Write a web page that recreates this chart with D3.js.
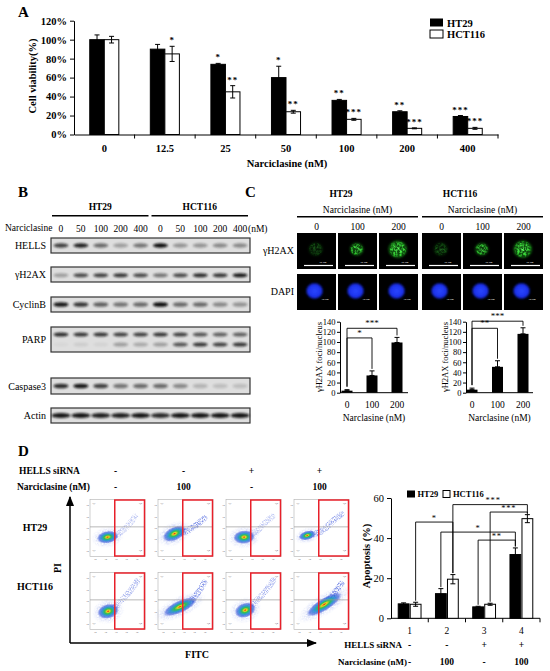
<!DOCTYPE html>
<html><head><meta charset="utf-8">
<script src="https://cdn.jsdelivr.net/npm/d3@7"></script>
<style>
body{margin:0;background:#fff}
svg{display:block;font-family:"Liberation Serif","Times New Roman",serif}
</style></head>
<body>
<svg id="fig" width="550" height="671"></svg>
<script>
// ---------------- DATA ----------------
// Panel A
const concA = ["0","12.5","25","50","100","200","400"];
const ht29A = [100, 90, 74, 60, 36, 24, 19];
const ht29AErr = [5, 5, 1, 12, 1, 1, 1];
const hct116A = [100, 85, 45, 24, 16, 6.5, 6.5];
const hct116AErr = [3.5, 8, 6.5, 1.5, 1, 0.5, 1];
const ht29AStars = ["", "", "*", "*", "**", "**", "***"];
const hct116AStars = ["", "*", "**", "**", "***", "***", "***"];
const yTicksA = [0, 20, 40, 60, 80, 100, 120];
// Panel B (band intensities read from blot, 0..1)
const blotLanes = ["0","50","100","200","400","0","50","100","200","400"];
const blotCells = ["HT29", "HCT116"];
const bandHELLS   = [0.75,0.9,0.55,0.3,0.5, 1.0,0.35,0.35,0.4,0.4];
const bandH2AX    = [0.3,0.7,0.75,0.8,0.7, 0.5,0.7,0.85,0.8,0.95];
const bandCyclinB = [0.95,0.8,0.6,0.5,0.55, 1.0,0.55,0.55,0.4,0.35];
const bandPARP    = [0.85,0.8,0.8,0.75,0.75, 0.8,0.75,0.65,0.6,0.6];
const bandClPARP  = [0.03,0.08,0.05,0.3,0.25, 0.3,0.65,0.8,0.75,0.8];
const bandCasp3   = [0.85,0.95,0.75,0.5,0.55, 0.55,0.4,0.2,0.15,0.15];
const bandActin   = [0.95,0.95,0.9,0.9,0.95, 0.85,0.95,0.95,0.95,0.95];
// Panel C
const fociDoses = ["0","100","200"];
const fociTicks = [0,20,40,60,80,100,120,140];
const fociHT29 = [4, 34, 99];
const fociHT29Err = [2, 9, 10];
const fociHCT116 = [6, 51, 116];
const fociHCT116Err = [3, 12, 12];
const gh2axIntensityHT29 = [0.28, 0.85, 1.0];
const gh2axIntensityHCT116 = [0.3, 0.8, 1.0];
// Panel D
const apopGroups = ["1","2","3","4"];
const apopHT29 = [7.2, 12.3, 5.7, 31.8];
const apopHT29Err = [0.5, 2.5, 0.3, 3.3];
const apopHCT116 = [7, 19.5, 7, 49.7];
const apopHCT116Err = [1, 2.3, 0.5, 2];
const siRNAD = ["-","-","+","+"];
const narcD = ["-","100","-","100"];
const apopYTicks = [0,20,40,60];

const SERIF = '"Liberation Serif","Times New Roman",serif';
const svg = d3.select("#fig");
svg.append("rect").attr("width",550).attr("height",671).attr("fill","#fff");

// ---------- defs ----------
const defs = svg.append("defs");
const blur = defs.append("filter").attr("id","bandBlur").attr("x","-30%").attr("y","-80%").attr("width","160%").attr("height","260%");
blur.append("feGaussianBlur").attr("stdDeviation",0.8);
const soft = defs.append("filter").attr("id","soft").attr("x","-50%").attr("y","-50%").attr("width","200%").attr("height","200%");
soft.append("feGaussianBlur").attr("stdDeviation",1.2);
const mott = defs.append("filter").attr("id","mottle").attr("x","-30%").attr("y","-30%").attr("width","160%").attr("height","160%");
mott.append("feTurbulence").attr("type","fractalNoise").attr("baseFrequency",0.45).attr("numOctaves",2).attr("seed",4).attr("result","n");
mott.append("feColorMatrix").attr("in","n").attr("type","matrix").attr("values","0 0 0 0 0  0 0 0 0 0  0 0 0 0 0  3 0 0 0 -1.1").attr("result","a");
mott.append("feComposite").attr("in","SourceGraphic").attr("in2","a").attr("operator","in").attr("result","c");
mott.append("feGaussianBlur").attr("in","c").attr("stdDeviation",0.35);
const spk = defs.append("filter").attr("id","speckle").attr("x","-30%").attr("y","-30%").attr("width","160%").attr("height","160%");
spk.append("feTurbulence").attr("type","fractalNoise").attr("baseFrequency",1.3).attr("numOctaves",1).attr("seed",7).attr("result","n");
spk.append("feColorMatrix").attr("in","n").attr("type","matrix").attr("values","0 0 0 0 0  0 0 0 0 0  0 0 0 0 0  3.2 0 0 0 -1.2").attr("result","a");
spk.append("feComposite").attr("in","SourceGraphic").attr("in2","a").attr("operator","in");
const heat = defs.append("radialGradient").attr("id","heat");
[[0,"#e02010",1],[0.14,"#f0d020",1],[0.32,"#30c050",1],[0.55,"#2090d0",0.9],[0.8,"#3050d8",0.6],[1,"#4a64e0",0]]
  .forEach(s=>heat.append("stop").attr("offset",s[0]).attr("stop-color",s[1]).attr("stop-opacity",s[2]));
const cool = defs.append("radialGradient").attr("id","cool");
[[0,"#3a5ad8",0.8],[1,"#6a80e8",0]].forEach(s=>cool.append("stop").attr("offset",s[0]).attr("stop-color",s[1]).attr("stop-opacity",s[2]));
const green = defs.append("radialGradient").attr("id","greenN");
[[0,"#60ff60",1],[0.75,"#30d030",1],[1,"#10a010",0]].forEach(s=>green.append("stop").attr("offset",s[0]).attr("stop-color",s[1]).attr("stop-opacity",s[2]));
const blue = defs.append("radialGradient").attr("id","blueN");
[[0,"#2a48ff",1],[0.8,"#1a2ee8",1],[1,"#0a10a0",0]].forEach(s=>blue.append("stop").attr("offset",s[0]).attr("stop-color",s[1]).attr("stop-opacity",s[2]));
defs.append("marker").attr("id","arrow").attr("viewBox","0 0 10 10").attr("refX",9).attr("refY",5)
  .attr("markerWidth",7).attr("markerHeight",7).attr("orient","auto-start-reverse")
  .append("path").attr("d","M0,1 L10,5 L0,9 z").attr("fill","#000");

function txt(g, x, y, s, size, weight, anchor){
  return g.append("text").attr("x",x).attr("y",y).text(s).attr("font-size",size)
    .attr("font-weight",weight||"normal").attr("text-anchor",anchor||"start").attr("font-family",SERIF).attr("fill","#000");
}
function styleAxis(sel, size, weight){
  sel.attr("font-family",SERIF);
  sel.selectAll("text").attr("font-size",size).attr("font-weight",weight).attr("fill","#000");
  sel.selectAll("line,path").attr("stroke","#000");
}
function errBar(g, x, y1, y2, cap){
  g.append("line").attr("x1",x).attr("x2",x).attr("y1",y1).attr("y2",y2).attr("stroke","#000").attr("stroke-width",1);
  [y1,y2].forEach(yy=>g.append("line").attr("x1",x-cap).attr("x2",x+cap).attr("y1",yy).attr("y2",yy).attr("stroke","#000").attr("stroke-width",1));
}

// ================= PANEL A =================
const gA = svg.append("g");
txt(gA, 18, 17, "A", 15, "bold");
const xA = d3.scaleBand().domain(concA).range([74, 498]);
const yA = d3.scaleLinear().domain([0,120]).range([134.5, 20.7]);
const bwA = xA.bandwidth()*0.24;
gA.append("g").attr("transform","translate(74,0)")
  .call(d3.axisLeft(yA).tickValues(yTicksA).tickFormat(d=>d+"%").tickSize(4).tickSizeOuter(0).tickPadding(3))
  .call(styleAxis, 10.5, "bold");
gA.append("g").attr("transform",`translate(0,${yA(0)})`)
  .call(d3.axisBottom(xA).tickSize(0).tickPadding(10).tickSizeOuter(0))
  .call(styleAxis, 10.5, "bold");
concA.slice(1).forEach(c=>gA.append("line").attr("x1",xA(c)).attr("x2",xA(c)).attr("y1",yA(0)).attr("y2",yA(0)+4).attr("stroke","#000"));
gA.append("line").attr("x1",498).attr("x2",498).attr("y1",yA(0)).attr("y2",yA(0)+4).attr("stroke","#000");
concA.forEach((c,i)=>{
  const cx = xA(c)+xA.bandwidth()/2;
  gA.append("rect").attr("x",cx-bwA).attr("y",yA(ht29A[i])).attr("width",bwA).attr("height",yA(0)-yA(ht29A[i])).attr("fill","#000").attr("stroke","#000");
  gA.append("rect").attr("x",cx).attr("y",yA(hct116A[i])).attr("width",bwA).attr("height",yA(0)-yA(hct116A[i])).attr("fill","#fff").attr("stroke","#000");
  errBar(gA, cx-bwA/2, yA(ht29A[i]+ht29AErr[i]), yA(ht29A[i]-ht29AErr[i]), 2.5);
  errBar(gA, cx+bwA/2, yA(hct116A[i]+hct116AErr[i]), yA(hct116A[i]-hct116AErr[i]), 2.5);
  if(ht29AStars[i]) txt(gA, cx-bwA/2, yA(ht29A[i]+ht29AErr[i])-3, ht29AStars[i], 9, "bold", "middle").attr("letter-spacing",1);
  if(hct116AStars[i]) txt(gA, cx+bwA/2, yA(hct116A[i]+hct116AErr[i])-3, hct116AStars[i], 9, "bold", "middle").attr("letter-spacing",1);
});
txt(gA, 0, 0, "Cell viability(%)", 10.5, "bold", "middle").attr("transform","translate(36,76) rotate(-90)");
txt(gA, 287, 167, "Narciclasine (nM)", 10.5, "bold", "middle");
gA.append("rect").attr("x",430).attr("y",18.5).attr("width",13).attr("height",8).attr("fill","#000");
gA.append("rect").attr("x",430).attr("y",30).attr("width",13).attr("height",8).attr("fill","#fff").attr("stroke","#000");
txt(gA, 447, 26.5, "HT29", 10.5, "bold");
txt(gA, 447, 38, "HCT116", 10.5, "bold");

// ================= PANEL B =================
const gB = svg.append("g");
txt(gB, 18, 197, "B", 15, "bold");
const lane = d3.scaleBand().domain(d3.range(blotLanes.length)).range([51, 250]);
const laneC = i => lane(i)+lane.bandwidth()/2;
[[0,4],[5,9]].forEach((r,k)=>{
  const x1 = lane(r[0])+1, x2 = lane(r[1])+lane.bandwidth()-2;
  gB.append("line").attr("x1",x1).attr("x2",x2).attr("y1",215.7).attr("y2",215.7).attr("stroke","#000").attr("stroke-width",1.5);
  txt(gB, (x1+x2)/2, 210, blotCells[k], 9.5, "bold", "middle");
});
txt(gB, 5, 231, "Narciclasine", 9.5, "normal");
blotLanes.forEach((l,i)=>txt(gB, laneC(i), 232, l, 9.5, "normal", "middle"));
txt(gB, 248, 232, "(nM)", 9.5, "normal");
const blotRows = [
  {name:"HELLS", y:238, h:15, bands:[[bandHELLS,0.5,2.2]]},
  {name:"γH2AX", y:267, h:15, bands:[[bandH2AX,0.55,2.0]]},
  {name:"CyclinB", y:297, h:15, bands:[[bandCyclinB,0.5,2.3]]},
  {name:"PARP", y:327, h:25, bands:[[bandPARP,0.3,2.0],[bandClPARP,0.7,2.0]]},
  {name:"Caspase3", y:378, h:16, bands:[[bandCasp3,0.5,2.3]]},
  {name:"Actin", y:408, h:15, bands:[[bandActin,0.5,2.6]]}
];
blotRows.forEach(r=>{
  gB.append("rect").attr("x",51).attr("y",r.y).attr("width",199).attr("height",r.h).attr("fill","#dedede").attr("stroke","#333").attr("stroke-width",1.2);
  r.bands.forEach(b=>{
    gB.selectAll(null).data(b[0]).join("ellipse")
      .attr("cx",(d,i)=>laneC(i)).attr("cy",r.y+r.h*b[1])
      .attr("rx",r.name==="Actin"?9.5:7.5).attr("ry",b[2])
      .attr("fill","#111").attr("opacity",d=>d).attr("filter","url(#bandBlur)");
  });
  txt(gB, 46, r.y+r.h/2+3.5, r.name, 10, "normal", "end");
});

// ================= PANEL C =================
const gC = svg.append("g");
txt(gC, 245, 197, "C", 15, "bold");
const cellStartsC = [297, 422];
const imgW = 39, imgH = 36, imgGap = 2;
const intensC = [gh2axIntensityHT29, gh2axIntensityHCT116];
[["HT29",341],["HCT116",460]].forEach(d=>txt(gC, d[1], 197, d[0], 9.5, "bold", "middle"));
cellStartsC.forEach((x0,k)=>{
  const xEnd = x0 + 3*imgW + 2*imgGap;
  txt(gC, (x0+xEnd)/2, 213, "Narciclasine (nM)", 9.5, "normal", "middle");
  gC.append("line").attr("x1",x0).attr("x2",xEnd).attr("y1",216.7).attr("y2",216.7).attr("stroke","#000").attr("stroke-width",1.5);
  fociDoses.forEach((d,j)=>{
    const ix = x0 + j*(imgW+imgGap);
    txt(gC, ix+imgW/2, 230, d, 9.5, "normal", "middle");
    // gH2AX image
    gC.append("rect").attr("x",ix).attr("y",233).attr("width",imgW).attr("height",imgH).attr("fill","#000");
    const I = intensC[k][j];
    const r = j===2 ? 9.5 : (j===1 ? 7 : 7.5);
    const cx = ix+imgW*0.48, cy = 233+imgH*0.45;
    gC.append("ellipse").attr("cx",cx).attr("cy",cy).attr("rx",r).attr("ry",r*0.95).attr("fill","#1a8a1a").attr("opacity",I*0.55).attr("filter","url(#soft)");
    gC.append("ellipse").attr("cx",cx).attr("cy",cy).attr("rx",r).attr("ry",r*0.95).attr("fill","url(#greenN)").attr("opacity",I).attr("filter","url(#mottle)");
    gC.append("line").attr("x1",ix+7).attr("x2",ix+imgW-3).attr("y1",265.5).attr("y2",265.5).attr("stroke","#fff").attr("stroke-width",1.2);
    txt(gC, ix+imgW*0.66, 262.5, "10 μm", 2.8, "normal", "middle").attr("fill","#fff");
    // DAPI image
    gC.append("rect").attr("x",ix).attr("y",274).attr("width",imgW).attr("height",imgH).attr("fill","#000");
    gC.append("ellipse").attr("cx",ix+imgW*0.45).attr("cy",274+imgH*0.47).attr("rx",9).attr("ry",8.5).attr("fill","url(#blueN)").attr("filter","url(#soft)");
    txt(gC, ix+imgW*0.72, 300, "10 μm", 2.8, "normal", "middle").attr("fill","#fff");
  });
});
txt(gC, 294, 254, "γH2AX", 10, "normal", "end");
txt(gC, 294, 295, "DAPI", 10, "normal", "end");

function fociChart(ax, axEnd, range, vals, errs, brackets){
  const g = svg.append("g");
  const y = d3.scaleLinear().domain([0,140]).range([392.7, 321.7]);
  const x = d3.scalePoint().domain(fociDoses).range(range);
  g.append("g").attr("transform",`translate(${ax},0)`)
    .call(d3.axisLeft(y).tickValues(fociTicks).tickSize(3).tickSizeOuter(0).tickPadding(1.5))
    .call(styleAxis, 8.5, "normal");
  g.append("line").attr("x1",ax).attr("x2",axEnd).attr("y1",y(0)).attr("y2",y(0)).attr("stroke","#000");
  fociDoses.forEach((d,i)=>{
    const cx = x(d);
    g.append("rect").attr("x",cx-5.5).attr("y",y(vals[i])).attr("width",11).attr("height",y(0)-y(vals[i])).attr("fill","#000");
    errBar(g, cx, y(vals[i]+errs[i]), y(vals[i]), 2.5);
    txt(g, cx, 408, d, 9.5, "normal", "middle");
  });
  brackets.forEach(b=>{
    const xa = x(fociDoses[b.from]), xb = x(fociDoses[b.to]);
    const ya = y(vals[b.from]+errs[b.from])-3, yb = y(vals[b.to]+errs[b.to])-2;
    g.append("path").attr("d",`M${xa},${ya}V${y(b.level)}H${xb}V${yb}`).attr("fill","none").attr("stroke","#000").attr("stroke-width",0.9);
    txt(g, (xa+xb)/2, y(b.level)-2, b.label, 9, "normal", "middle");
  });
  txt(g, 0, 0, "γH2AX foci/nucleus", 8.5, "normal", "middle").attr("transform",`translate(${ax-18},357) rotate(-90)`);
  txt(g, (ax+axEnd)/2, 421, "Narclasine (nM)", 9.5, "normal", "middle");
}
fociChart(340, 408, [347, 397], fociHT29, fociHT29Err, [
  {from:0,to:1,level:108,label:"*"},{from:0,to:2,level:127,label:"***"}]);
fociChart(466, 533, [472, 523], fociHCT116, fociHCT116Err, [
  {from:0,to:1,level:127,label:"**"},{from:0,to:2,level:141,label:"***"}]);

// ================= PANEL D =================
const gD = svg.append("g");
txt(gD, 18, 456, "D", 15, "bold");
const colX = d3.scaleBand().domain(d3.range(4)).range([90, 362]);
const pw = 55, ph = 57;
const rowY = [499.5, 572.5];
txt(gD, 19, 474, "HELLS  siRNA", 9.5, "bold");
txt(gD, 17, 490, "Narciclasine (nM)", 9.5, "bold");
siRNAD.forEach((s,i)=>txt(gD, colX(i)+pw/2-2, 474, s, 9.5, "bold", "middle"));
narcD.forEach((s,i)=>txt(gD, colX(i)+pw/2-2, 490, s, 9.5, "bold", "middle"));
txt(gD, 35, 531, "HT29", 10, "bold", "middle");
txt(gD, 35, 590, "HCT116", 10, "bold", "middle");
// flow cytometry cluster shapes per panel (fractions of panel box)
const flowClusters = [
  [{c:[0.32,0.66,0.2,0.11,-10],t:[[0.48,0.62],[0.65,0.5],[0.82,0.3]],tw:0.35},
   {c:[0.3,0.6,0.23,0.12,-25],t:[[0.5,0.56],[0.68,0.46],[0.84,0.33]],tw:0.7},
   {c:[0.33,0.66,0.2,0.12,-5],t:[[0.55,0.56],[0.72,0.4],[0.84,0.3]],tw:0.35},
   {c:[0.24,0.63,0.16,0.08,-15],t:[[0.5,0.56],[0.7,0.38],[0.86,0.26]],tw:0.6}],
  [{c:[0.33,0.68,0.2,0.13,-15],t:[[0.5,0.56],[0.7,0.36],[0.86,0.15]],tw:0.45},
   {c:[0.4,0.6,0.34,0.11,-25],t:[[0.62,0.48],[0.75,0.32],[0.84,0.18]],tw:0.7},
   {c:[0.35,0.66,0.2,0.13,-20],t:[[0.55,0.5],[0.74,0.3],[0.86,0.14]],tw:0.5},
   {c:[0.55,0.56,0.38,0.11,-32],t:[[0.74,0.35],[0.86,0.2]],tw:0.7}]
];
rowY.forEach((y0,r)=>{
  d3.range(4).forEach(i=>{
    const x0 = colX(i);
    const g = gD.append("g");
    g.append("rect").attr("x",x0).attr("y",y0).attr("width",pw).attr("height",ph).attr("fill","#fff").attr("stroke","#b0b0b0").attr("stroke-width",0.6);
    const f = flowClusters[r][i];
    const tp = f.t.map(p=>[x0+p[0]*pw, y0+p[1]*ph]);
    const cx = x0+f.c[0]*pw, cy = y0+f.c[1]*ph;
    g.append("path").attr("d",d3.line().curve(d3.curveCatmullRom)([[cx,cy]].concat(tp)))
      .attr("fill","none").attr("stroke","#5068e0").attr("stroke-width",6).attr("stroke-linecap","round").attr("opacity",f.tw).attr("filter","url(#speckle)");
    g.append("ellipse").attr("cx",cx).attr("cy",cy).attr("rx",f.c[2]*pw*1.5).attr("ry",f.c[3]*ph*1.7)
      .attr("transform",`rotate(${f.c[4]},${cx},${cy})`).attr("fill","url(#cool)").attr("filter","url(#speckle)");
    g.append("ellipse").attr("cx",cx).attr("cy",cy).attr("rx",f.c[2]*pw).attr("ry",f.c[3]*ph)
      .attr("transform",`rotate(${f.c[4]},${cx},${cy})`).attr("fill","url(#heat)");
    g.append("line").attr("x1",x0).attr("x2",x0+pw).attr("y1",y0+ph*0.48).attr("y2",y0+ph*0.48).attr("stroke","#999").attr("stroke-width",0.7);
    g.append("rect").attr("x",x0+pw*0.45).attr("y",y0+0.5).attr("width",pw*0.55-0.5).attr("height",ph-1)
      .attr("fill","none").attr("stroke","#e8202a").attr("stroke-width",1.5);
    [0.1,0.3,0.5,0.7,0.9].forEach(t=>{
      txt(g, x0-1.2, y0+ph*t+1, "10", 2.6, "normal", "end").attr("fill","#555");
      txt(g, x0+pw*(t*0.95), y0+ph+3.5, "10", 2.6, "normal", "middle").attr("fill","#555");
    });
    ["Q1","Q2","Q3","Q4"].forEach((q,k)=>{
      const qx = k%2===0 ? x0+2.5 : x0+pw-6;
      const qy = k<2 ? y0+4 : y0+ph-6;
      txt(g, qx, qy, q, 2.6, "normal").attr("fill","#666");
    });
  });
});
gD.append("line").attr("x1",70).attr("x2",70).attr("y1",643).attr("y2",497).attr("stroke","#000").attr("stroke-width",1.5).attr("marker-end","url(#arrow)");
gD.append("line").attr("x1",70).attr("x2",316).attr("y1",643).attr("y2",643).attr("stroke","#000").attr("stroke-width",1.5).attr("marker-end","url(#arrow)");
txt(gD, 0, 0, "PI", 10, "bold", "middle").attr("transform","translate(61,568) rotate(-90)");
txt(gD, 197, 658, "FITC", 10, "bold", "middle");

// Apoptosis bar chart
const xD = d3.scaleBand().domain(apopGroups).range([391, 540]);
const yD = d3.scaleLinear().domain([0,60]).range([618.3, 498]);
const bwD = xD.bandwidth()*0.29;
const cD = g => xD(g)+xD.bandwidth()/2;
gD.append("g").attr("transform","translate(391,0)")
  .call(d3.axisLeft(yD).tickValues(apopYTicks).tickSize(4).tickSizeOuter(0).tickPadding(3))
  .call(styleAxis, 10.5, "normal");
gD.append("line").attr("x1",391).attr("x2",540).attr("y1",yD(0)).attr("y2",yD(0)).attr("stroke","#000");
apopGroups.slice(1).concat(["end"]).forEach(g=>{
  const xx = g==="end" ? 540 : xD(g);
  gD.append("line").attr("x1",xx).attr("x2",xx).attr("y1",yD(0)).attr("y2",yD(0)+4).attr("stroke","#000");
});
const posHT = i => cD(apopGroups[i]) - bwD/2 - 0.6;
const posHC = i => cD(apopGroups[i]) + bwD/2 + 0.6;
apopGroups.forEach((g,i)=>{
  gD.append("rect").attr("x",posHT(i)-bwD/2).attr("y",yD(apopHT29[i])).attr("width",bwD).attr("height",yD(0)-yD(apopHT29[i])).attr("fill","#000").attr("stroke","#000");
  gD.append("rect").attr("x",posHC(i)-bwD/2).attr("y",yD(apopHCT116[i])).attr("width",bwD).attr("height",yD(0)-yD(apopHCT116[i])).attr("fill","#fff").attr("stroke","#000");
  errBar(gD, posHT(i), yD(apopHT29[i]+apopHT29Err[i]), yD(apopHT29[i]-apopHT29Err[i]), 2.5);
  errBar(gD, posHC(i), yD(apopHCT116[i]+apopHCT116Err[i]), yD(apopHCT116[i]-apopHCT116Err[i]), 2.5);
  txt(gD, cD(g), 634, g, 9.5, "normal", "middle");
  txt(gD, cD(g), 648, siRNAD[i], 9.5, "bold", "middle");
  txt(gD, cD(g), 665, narcD[i], 9.5, "bold", "middle");
});
txt(gD, 402, 648, "HELLS  siRNA", 9, "bold", "end");
txt(gD, 407, 665, "Narciclasine (nM)", 9, "bold", "end");
txt(gD, 0, 0, "Apoptosis  (%)", 10.5, "bold", "middle").attr("transform","translate(370,556) rotate(-90)");
// legend
gD.append("rect").attr("x",407).attr("y",490.5).attr("width",8).attr("height",7).attr("fill","#000");
txt(gD, 417.5, 497, "HT29", 8.5, "bold");
gD.append("rect").attr("x",443).attr("y",490.5).attr("width",7).attr("height",7).attr("fill","#fff").attr("stroke","#000");
txt(gD, 453, 497, "HCT116", 8.5, "bold");
// significance brackets (series: 0=HT29, 1=HCT116; group index)
const apopBrackets = [
  {a:[1,0], b:[1,1], level:48, label:"*"},
  {a:[1,1], b:[1,3], level:56.7, label:"***"},
  {a:[1,2], b:[1,3], level:53, label:"***"},
  {a:[0,1], b:[0,3], level:43, label:"*"},
  {a:[0,2], b:[0,3], level:39, label:"**"}
];
const topOf = (s,i) => s===0 ? apopHT29[i]+apopHT29Err[i] : apopHCT116[i]+apopHCT116Err[i];
const xOf = (s,i) => s===0 ? posHT(i) : posHC(i);
apopBrackets.forEach((b,k)=>{
  const xa = xOf(b.a[0],b.a[1]), xb = xOf(b.b[0],b.b[1]);
  const yl = yD(b.level);
  gD.append("path").attr("d",`M${xa},${yD(topOf(b.a[0],b.a[1]))-1.5}V${yl}H${xb}V${Math.max(yl+2, yD(topOf(b.b[0],b.b[1]))-1.5)}`)
    .attr("fill","none").attr("stroke","#000").attr("stroke-width",0.9);
  const tx = k===1 ? (xa+xb)/2+3 : (xa+xb)/2;
  txt(gD, tx, yl-1.5, b.label, 8.5, "normal", "middle").attr("letter-spacing",0.8);
});
</script>
</body></html>
